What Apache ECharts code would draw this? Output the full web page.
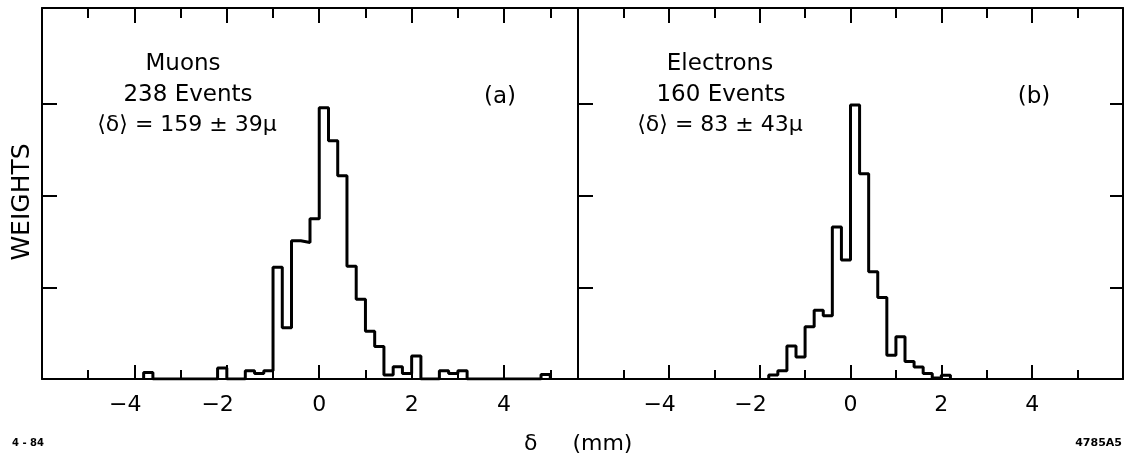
<!DOCTYPE html>
<html lang="en">
<head>
<meta charset="UTF-8">
<title>δ distributions, muons and electrons</title>
<script src="https://cdn.jsdelivr.net/npm/echarts@6/dist/echarts.min.js"></script>
<style>html,body{margin:0;padding:0;background:#fff;}</style>
</head>
<body>
<div id="main" style="width:1131px;height:454px;"></div>
<script>
// histogram bins, 0.2 mm wide, weights in axis-tick units
const binWidth = 0.2;
const muonStart = -3.8;
const muonWeights = [
    0.07, 0, 0, 0, 0, 0, 0, 0,            // -3.8 .. -2.4
    0.12, 0, 0,                           // -2.2 .. -1.8
    0.09, 0.06, 0.09,                     // -1.6 .. -1.2
    1.22, 0.56, 1.51, 1.49, 1.75,         // -1.0 .. -0.2
    2.96, 2.60, 2.22, 1.23, 0.87,         //  0.0 ..  0.8
    0.52, 0.355, 0.044, 0.135, 0.06, 0.25,//  1.0 ..  2.0
    0, 0,                                 //  2.2 ..  2.4
    0.09, 0.06, 0.09,                     //  2.6 ..  3.0
    0, 0, 0, 0, 0, 0, 0, 0,               //  3.2 ..  4.6
    0.05                                  //  4.8
];
const electronStart = -1.8;
const electronWeights = [
    0.044, 0.09, 0.36, 0.24, 0.57, 0.75, 0.69, 1.66, 1.30,
    2.99, 2.24, 1.17, 0.89, 0.26, 0.46, 0.19, 0.13, 0.06, 0.01, 0.04
];
const majorTicks = [-4, -2, 0, 2, 4];
const minorTicks = [-5, -3, -1, 1, 3, 5];
const weightTicks = [1, 2, 3];

const FONT = 'DejaVu Sans';
const INK = '#000';

// points for a step line drawn with step:'end'
function stepData(start, weights) {
    const pts = [[start, 0]];
    weights.forEach(function (w, i) {
        pts.push([+(start + i * binWidth).toFixed(2), w]);
    });
    pts.push([+(start + weights.length * binWidth).toFixed(2), 0]);
    return pts;
}

function tickLabel(v) {
    // keep the digit centred on the tick, the minus hangs to the left
    return v < 0 ? '\u2212' + (-v) + '{h|\u2212}' : String(v);
}

function xAxesFor(g, min, max) {
    const base = {
        gridIndex: g, type: 'value', min: min, max: max,
        splitLine: {show: false}
    };
    const line = {show: true, onZero: false, lineStyle: {color: INK, width: 2}};
    const noLine = {show: false, onZero: false};
    function tick(vals, len) {
        return {show: true, inside: true, length: len, customValues: vals, lineStyle: {color: INK, width: 2}};
    }
    return [
        Object.assign({}, base, {
            position: 'bottom', axisLine: line, axisTick: tick(majorTicks, 14),
            axisLabel: {
                customValues: majorTicks, formatter: tickLabel, margin: 15,
                color: INK, fontFamily: FONT, fontSize: 22,
                rich: {h: {color: 'rgba(0,0,0,0)', fontFamily: FONT, fontSize: 22}}
            }
        }),
        Object.assign({}, base, {position: 'bottom', axisLine: noLine, axisTick: tick(minorTicks, 9), axisLabel: {show: false}}),
        Object.assign({}, base, {position: 'top', axisLine: line, axisTick: tick(majorTicks, 15), axisLabel: {show: false}}),
        Object.assign({}, base, {position: 'top', axisLine: noLine, axisTick: tick(minorTicks, 10), axisLabel: {show: false}})
    ];
}

function yAxesFor(g, rightTicks) {
    function axis(pos, showTicks, len) {
        return {
            gridIndex: g, type: 'value', position: pos, min: 0, max: 4.05,
            axisLine: {show: true, onZero: false, lineStyle: {color: INK, width: 2}},
            axisTick: {show: showTicks, inside: true, length: len, customValues: weightTicks, lineStyle: {color: INK, width: 2}},
            axisLabel: {show: false},
            splitLine: {show: false}
        };
    }
    return [axis('left', true, 15), axis('right', rightTicks, 13)];
}

function txt(x, y, text, size, extra) {
    return {
        type: 'text', x: x, y: y, silent: true,
        style: Object.assign({
            text: text, fill: INK, font: size + 'px "' + FONT + '"',
            textAlign: 'center', textVerticalAlign: 'middle'
        }, extra || {})
    };
}

const chart = echarts.init(document.getElementById('main'), null, {renderer: 'canvas'});

const histLine = {color: INK, width: 3};

chart.setOption({
    animation: false,
    backgroundColor: '#fff',
    grid: [
        {left: 42, top: 8, width: 536, height: 371},
        {left: 578, top: 8, width: 545, height: 371}
    ],
    xAxis: xAxesFor(0, -6, 5.6).concat(xAxesFor(1, -6, 6)),
    yAxis: yAxesFor(0, false).concat(yAxesFor(1, true)),
    series: [
        {
            name: 'Muons', type: 'line', step: 'end', xAxisIndex: 0, yAxisIndex: 0,
            data: stepData(muonStart, muonWeights),
            symbol: 'none', lineStyle: histLine
        },
        {
            name: 'Electrons', type: 'line', step: 'end', xAxisIndex: 4, yAxisIndex: 2,
            data: stepData(electronStart, electronWeights),
            symbol: 'none', lineStyle: histLine
        }
    ],
    graphic: [
        txt(183, 64, 'Muons', 23),
        txt(188, 95, '238 Events', 23),
        txt(187, 125, '\u27E8\u03B4\u27E9 = 159 \u00B1 39\u03BC', 22),
        txt(500, 97, '(a)', 23),
        txt(720, 64, 'Electrons', 23),
        txt(721, 95, '160 Events', 23),
        txt(720, 125, '\u27E8\u03B4\u27E9 = 83 \u00B1 43\u03BC', 22),
        txt(1034, 97, '(b)', 23),
        Object.assign(txt(22, 202, 'WEIGHTS', 25), {rotation: Math.PI / 2}),
        txt(524, 444, '\u03B4     (mm)', 22, {textAlign: 'left'}),
        txt(12, 443, '4 - 84', 10, {textAlign: 'left', font: 'bold 10px "' + FONT + '"'}),
        txt(1122, 443, '4785A5', 11, {textAlign: 'right', font: 'bold 11px "' + FONT + '"'})
    ]
});
</script>
</body>
</html>
